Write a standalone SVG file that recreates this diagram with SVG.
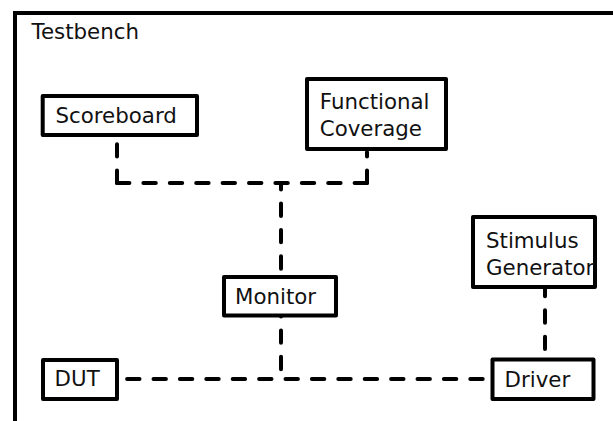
<svg xmlns="http://www.w3.org/2000/svg" width="613" height="421" viewBox="0 0 613 421">
  <style>
    .frame { fill: none; stroke: #000; stroke-width: 4; }
    .box { fill: #fff; stroke: #000; stroke-width: 4; stroke-linejoin: round; }
    .lbl { font-family: "DejaVu Sans", sans-serif; font-size: 21.33px; fill: #111; }
    .link { fill: none; stroke: #000; stroke-width: 4; stroke-linecap: round; stroke-dasharray: 12.4 14; }
  </style>
  <rect width="613" height="421" fill="#fff"/>

  <!-- testbench enclosure, open to the right and bottom -->
  <g id="testbench">
    <rect class="frame" x="15" y="13" width="640" height="440"/>
    <text class="lbl" x="31.5" y="38.5">Testbench</text>
  </g>

  <g id="connectors">
    <!-- scoreboard / coverage bus -->
    <path class="link" d="M117,183 V137"/>
    <path class="link" d="M117,183 H367"/>
    <path class="link" d="M367,183 V152"/>
    <!-- bus to monitor -->
    <path class="link" stroke-dashoffset="5.9" d="M281,183 V276"/>
    <!-- monitor to DUT/driver link -->
    <path class="link" stroke-dashoffset="12" d="M281,316 V379"/>
    <!-- DUT to driver -->
    <path class="link" stroke-dashoffset="18.3" d="M119,379 H491"/>
    <!-- stimulus generator to driver -->
    <path class="link" stroke-dashoffset="5.1" d="M545,289 V359"/>
  </g>

  <g id="scoreboard">
    <rect class="box" x="42.7" y="96" width="154.3" height="39"/>
    <text class="lbl" x="55.5" y="123">Scoreboard</text>
  </g>

  <g id="functional-coverage">
    <rect class="box" x="307" y="79" width="139" height="70"/>
    <text class="lbl" x="319.8" y="109">Functional</text>
    <text class="lbl" x="319.8" y="136">Coverage</text>
  </g>

  <g id="monitor">
    <rect class="box" x="224" y="277" width="112" height="38.5"/>
    <text class="lbl" x="235" y="303.5">Monitor</text>
  </g>

  <g id="stimulus-generator">
    <rect class="box" x="473" y="217" width="122" height="70"/>
    <text class="lbl" x="486" y="248">Stimulus</text>
    <text class="lbl" x="486" y="275">Generator</text>
  </g>

  <g id="dut">
    <rect class="box" x="43" y="360" width="74" height="39"/>
    <text class="lbl" x="54.6" y="386">DUT</text>
  </g>

  <g id="driver">
    <rect class="box" x="492.5" y="359.5" width="101" height="39.5"/>
    <text class="lbl" x="504.6" y="386.5">Driver</text>
  </g>
</svg>
